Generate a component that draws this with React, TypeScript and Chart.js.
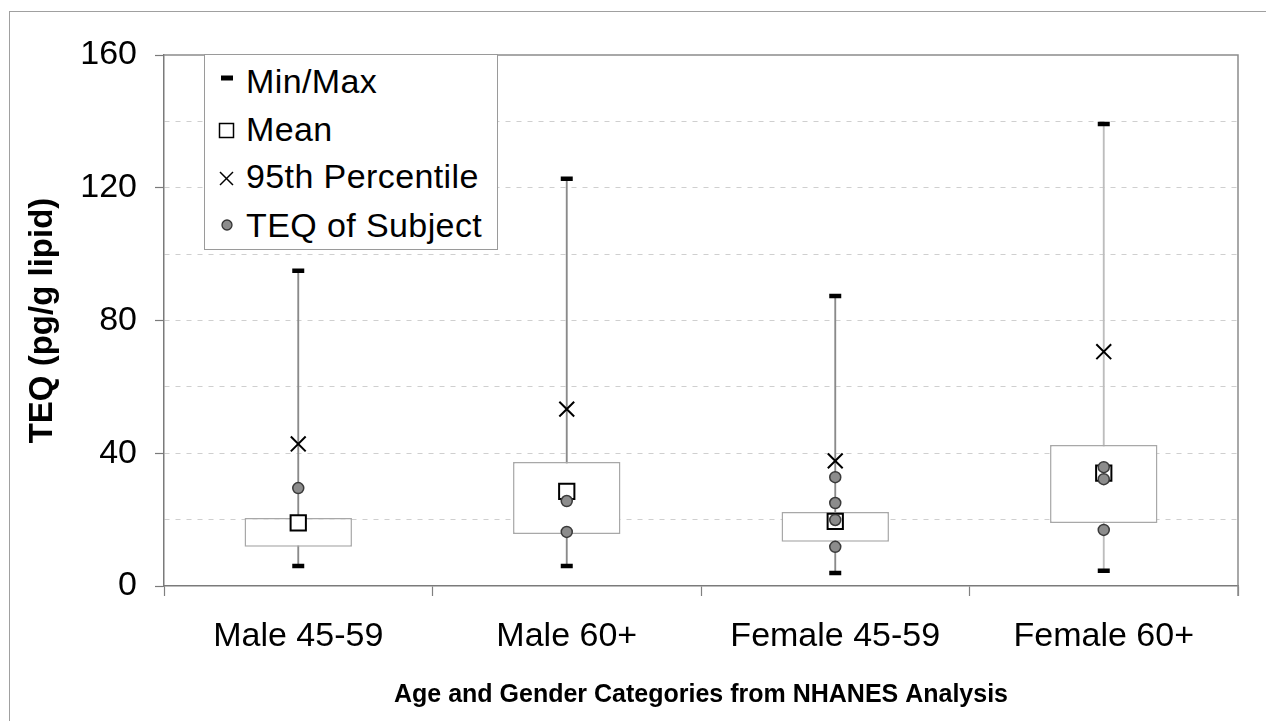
import React, { useEffect, useRef } from "react";
import { Chart, registerables } from "chart.js";

Chart.register(...registerables);

// ---------------- data ----------------
const categories = ["Male 45-59", "Male 60+", "Female 45-59", "Female 60+"];
const minValues = [6.0, 6.0, 3.9, 4.6];
const maxValues = [95.0, 122.7, 87.4, 139.2];
const boxLowValues = [11.8, 15.7, 13.3, 19.0];
const boxHighValues = [20.5, 37.4, 22.3, 42.5];
const meanValues = [19.0, 28.5, 19.5, 34.0];
const p95Values = [42.8, 53.3, 37.7, 70.6];
const subjectValues = [
  [29.5],
  [25.6, 16.3],
  [32.8, 25.0, 19.9, 11.8],
  [35.8, 32.2, 16.9],
];
const yTickLabels = [0, 40, 80, 120, 160];
const legendLabels = ["Min/Max", "Mean", "95th Percentile", "TEQ of Subject"];
const yTitle = "TEQ (pg/g lipid)";
const xTitle = "Age and Gender Categories from NHANES Analysis";

// ---------------- styles ----------------
const FONT = "'Liberation Sans', Arial, Helvetica, sans-serif";
const whiskerColors = ["#8a8a8a", "#8a8a8a", "#8a8a8a", "#bdbdbd"];

const framePlugin = {
  id: "plotFrame",
  beforeDatasetsDraw(chart: any) {
    const { ctx, chartArea } = chart;
    const { left, top, right, bottom } = chartArea;
    ctx.save();
    ctx.strokeStyle = "#8c8c8c";
    ctx.lineWidth = 1.5;
    ctx.beginPath();
    ctx.moveTo(left, top);
    ctx.lineTo(right, top);
    ctx.lineTo(right, bottom + 10);
    ctx.stroke();
    ctx.restore();
  },
};

export default function App() {
  const canvasRef = useRef<HTMLCanvasElement | null>(null);

  useEffect(() => {
    const canvas = canvasRef.current;
    if (!canvas) return;

    const subjectPoints: { x: string; y: number }[] = [];
    subjectValues.forEach((vals, i) =>
      vals.forEach((v) => subjectPoints.push({ x: categories[i], y: v }))
    );

    const chart = new Chart(canvas, {
      type: "bar",
      data: {
        labels: categories,
        datasets: [
          {
            type: "line",
            label: "TEQ of Subject",
            data: subjectPoints as any,
            showLine: false,
            pointStyle: "circle",
            pointRadius: 5.5,
            pointBackgroundColor: "#8c8c8c",
            pointBorderColor: "#3a3a3a",
            pointBorderWidth: 1.5,
            order: 0,
          } as any,
          {
            type: "line",
            label: "95th Percentile",
            data: p95Values,
            showLine: false,
            pointStyle: "crossRot",
            pointRadius: 10.5,
            pointBorderWidth: 2,
            pointBorderColor: "#000",
            order: 0,
          } as any,
          {
            type: "line",
            label: "Min",
            data: minValues,
            showLine: false,
            pointStyle: "line",
            pointRadius: 6,
            pointBorderWidth: 4.5,
            pointBorderColor: "#000",
            order: 1,
          } as any,
          {
            type: "line",
            label: "Max",
            data: maxValues,
            showLine: false,
            pointStyle: "line",
            pointRadius: 6,
            pointBorderWidth: 4.5,
            pointBorderColor: "#000",
            order: 1,
          } as any,
          {
            type: "line",
            label: "Mean",
            data: meanValues,
            showLine: false,
            pointStyle: "rect",
            pointRadius: 10.8,
            pointBorderWidth: 2,
            pointBackgroundColor: "#fff",
            pointBorderColor: "#000",
            order: 2,
          } as any,
          {
            type: "bar",
            label: "Box",
            data: categories.map((_, i) => [boxLowValues[i], boxHighValues[i]]) as any,
            backgroundColor: "#ffffff",
            borderColor: "#a8a8a8",
            borderWidth: 1.5,
            borderSkipped: false,
            barPercentage: 0.4,
            categoryPercentage: 1,
            grouped: false,
            order: 5,
          } as any,
          {
            type: "bar",
            label: "Whisker",
            data: categories.map((_, i) => [minValues[i], maxValues[i]]) as any,
            backgroundColor: whiskerColors,
            borderWidth: 0,
            barThickness: 1.2,
            grouped: false,
            order: 6,
          } as any,
        ],
      },
      options: {
        responsive: false,
        animation: false,
        events: [],
        layout: { padding: { left: 0, top: 55, right: 28, bottom: 0 } },
        plugins: {
          legend: { display: false },
          tooltip: { enabled: false },
        },
        scales: {
          x: {
            offset: true,
            grid: {
              offset: true,
              drawOnChartArea: false,
              drawTicks: true,
              tickLength: 10,
              tickColor: "#808080",
              tickWidth: 1.2,
            },
            border: { color: "#7a7a7a", width: 1.5 },
            ticks: {
              font: { family: FONT, size: 34 },
              color: "#000",
              padding: 20,
              maxRotation: 0,
              autoSkip: false,
            },
            title: {
              display: true,
              text: xTitle,
              font: { family: FONT, size: 25, weight: "bold" },
              color: "#000",
              padding: { top: 0, bottom: 11 },
            },
            afterFit: (s: any) => {
              s.height = 135;
            },
          },
          y: {
            min: 0,
            max: 160,
            ticks: {
              stepSize: 20,
              callback: (v: any) => (yTickLabels.includes(Number(v)) ? String(v) : ""),
              font: { family: FONT, size: 34 },
              color: "#000",
              padding: 18,
            },
            grid: {
              color: (ctx: any) =>
                ctx.tick && (ctx.tick.value === 0 || ctx.tick.value === 160)
                  ? "rgba(0,0,0,0)"
                  : "#cfcfcf",
              lineWidth: 1,
              drawTicks: true,
              tickLength: 9,
              tickWidth: 1.2,
              tickColor: (ctx: any) =>
                ctx.tick && yTickLabels.includes(ctx.tick.value) ? "#7a7a7a" : "rgba(0,0,0,0)",
            },
            border: { color: "#7a7a7a", width: 1.5, dash: [5, 6] },
            title: {
              display: true,
              text: yTitle,
              font: { family: FONT, size: 33, weight: "bold" },
              color: "#000",
              padding: { top: 23, bottom: 0 },
            },
            afterFit: (s: any) => {
              s.width = 164;
            },
          },
        },
      } as any,
      plugins: [framePlugin],
    });

    return () => chart.destroy();
  }, []);

  const rowBaselines = [93, 141, 188, 237];

  return (
    <div
      style={{
        position: "fixed",
        left: 0,
        top: 0,
        width: 1266,
        height: 721,
        overflow: "hidden",
        background: "#fff",
      }}
    >
      {/* outer page frame */}
      <div
        style={{
          position: "absolute",
          left: 9,
          top: 11,
          width: 1400,
          height: 900,
          borderLeft: "1px solid #a0a0a0",
          borderTop: "1px solid #a0a0a0",
        }}
      />
      <canvas
        ref={canvasRef}
        width={1266}
        height={721}
        style={{ position: "absolute", left: 0, top: 0, width: 1266, height: 721 }}
      />
      {/* legend */}
      <div
        style={{
          position: "absolute",
          left: 204,
          top: 54,
          width: 294,
          height: 196,
          boxSizing: "border-box",
          border: "1px solid #9a9a9a",
          background: "#fff",
        }}
      >
        {legendLabels.map((t, i) => (
          <div
            key={t}
            style={{
              position: "absolute",
              left: 41,
              top: rowBaselines[i] - 54 - 29 - 1,
              fontFamily: FONT,
              fontSize: 34,
              lineHeight: "34px",
              letterSpacing: "0.4px",
              color: "#000",
              whiteSpace: "nowrap",
            }}
          >
            {t}
          </div>
        ))}
      </div>
      <svg
        width={1266}
        height={721}
        style={{ position: "absolute", left: 0, top: 0, pointerEvents: "none" }}
      >
        <rect x={221} y={75.5} width={12} height={5} fill="#000" />
        <rect x={219.5} y={123.5} width={14} height={14} fill="#fff" stroke="#000" strokeWidth={1.5} />
        <line x1={220} y1={172} x2={233} y2={185} stroke="#000" strokeWidth={1.5} />
        <line x1={233} y1={172} x2={220} y2={185} stroke="#000" strokeWidth={1.5} />
        <circle cx={227} cy={225} r={5} fill="#8c8c8c" stroke="#333" strokeWidth={1.3} />
      </svg>
    </div>
  );
}
